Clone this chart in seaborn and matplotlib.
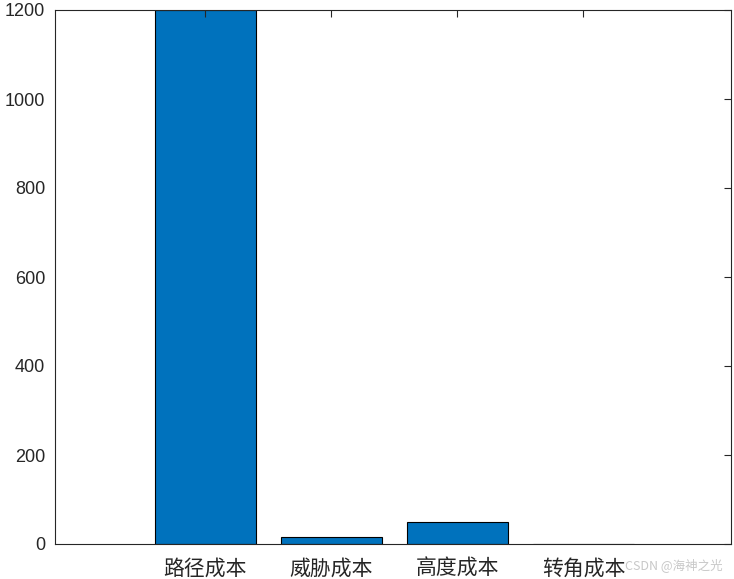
import matplotlib
matplotlib.use("Agg")
import matplotlib.pyplot as plt
import pandas
import seaborn

# data
CATEGORIES = ["路径成本", "威胁成本", "高度成本", "转角成本"]
COSTS = [1200, 16, 50, 0.3]
Y_TICKS = [0, 200, 400, 600, 800, 1000, 1200]

BAR_COLOR = "#0072BD"
WIDTH = 7.34
HEIGHT = 5.79

seaborn.set_style("white")
plt.rcParams["font.family"] = ["Liberation Sans", "Noto Sans CJK SC", "DejaVu Sans"]

cost_df = pandas.DataFrame({"item": CATEGORIES, "cost": COSTS})

fig = plt.figure(figsize=(WIDTH, HEIGHT), dpi=100)
ax = fig.add_axes([55 / 734, 1 - 544 / 579, (731 - 55) / 734, (544 - 10) / 579])

seaborn.barplot(x="item", y="cost", data=cost_df, color=BAR_COLOR,
                saturation=1, width=0.8, edgecolor="black", linewidth=0.8, ax=ax)

ax.set_xlim(-1.19, 3 + 1.17)
ax.set_ylim(0, 1200)
ax.set_yticks(Y_TICKS)
ax.set_xlabel("")
ax.set_ylabel("")
ax.tick_params(axis="both", direction="in", top=True, right=True, length=5,
               width=0.8, color="#262626", labelcolor="#262626")
ax.tick_params(axis="y", labelsize=13, pad=7)
ax.tick_params(axis="x", labelsize=15, pad=10)
for lbl in ax.get_xticklabels():
    lbl.set_family(["Noto Sans CJK SC", "DejaVu Sans"])
    lbl.set_fontweight("light")
for spine in ax.spines.values():
    spine.set_visible(True)
    spine.set_color("#262626")
    spine.set_linewidth(0.8)
ax.set_axisbelow(False)

fig.text(0.985, 0.012, "CSDN @海神之光", ha="right", va="bottom", fontsize=9,
         color="#c8c8c8", family=["Noto Sans CJK SC", "DejaVu Sans"])

fig.savefig("out.png", dpi=100)
